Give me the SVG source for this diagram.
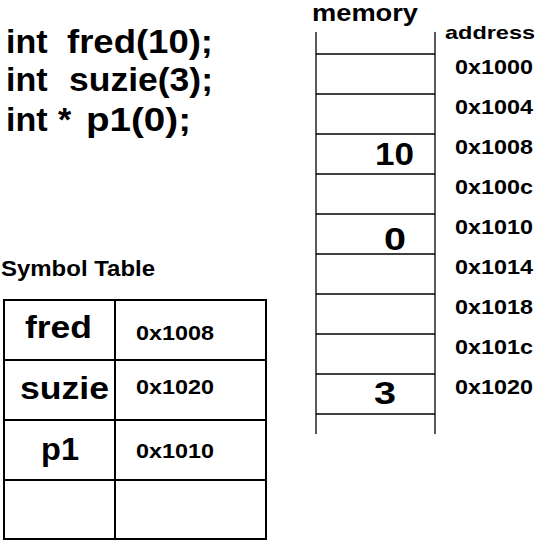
<svg xmlns="http://www.w3.org/2000/svg" width="541" height="542" viewBox="0 0 541 542">
<style>
text{font-family:"Liberation Sans",Arial,Helvetica,sans-serif;font-weight:bold;fill:#000}
.code{font-size:34px}
.addr{font-size:21px}
.val{font-size:32px}
.mem{stroke:#000;stroke-width:1.3;fill:none}
.tbl{stroke:#000;stroke-width:2;fill:none}
</style>
<rect width="541" height="542" fill="#fff"/>
<g id="code">
<text class="code" x="6" y="53">int <tspan x="67" textLength="146" lengthAdjust="spacingAndGlyphs">fred(10);</tspan></text>
<text class="code" x="6" y="91">int <tspan x="69" textLength="144" lengthAdjust="spacingAndGlyphs">suzie(3);</tspan></text>
<text class="code" x="6" y="131">int <tspan x="58">*</tspan> <tspan x="86" textLength="105" lengthAdjust="spacingAndGlyphs">p1(0);</tspan></text>
</g>
<g id="memory">
<text x="312" y="21" font-size="23" textLength="106" lengthAdjust="spacingAndGlyphs">memory</text>
<g class="mem">
<line x1="316" y1="32" x2="316" y2="434"/>
<line x1="435" y1="32" x2="435" y2="434"/>
<line x1="316" y1="54" x2="435" y2="54"/>
<line x1="316" y1="94" x2="435" y2="94"/>
<line x1="316" y1="134" x2="435" y2="134"/>
<line x1="316" y1="174" x2="435" y2="174"/>
<line x1="316" y1="214" x2="435" y2="214"/>
<line x1="316" y1="254" x2="435" y2="254"/>
<line x1="316" y1="294" x2="435" y2="294"/>
<line x1="316" y1="334" x2="435" y2="334"/>
<line x1="316" y1="374" x2="435" y2="374"/>
<line x1="316" y1="414" x2="435" y2="414"/>
</g>
<text class="val" x="375" y="165" textLength="39" lengthAdjust="spacingAndGlyphs">10</text>
<text class="val" x="384" y="250" textLength="22" lengthAdjust="spacingAndGlyphs">0</text>
<text class="val" x="374" y="404" textLength="22" lengthAdjust="spacingAndGlyphs">3</text>
</g>
<g id="addresses">
<text x="445" y="39" font-size="19" textLength="90" lengthAdjust="spacingAndGlyphs">address</text>
<text class="addr" x="455" y="74" textLength="78" lengthAdjust="spacingAndGlyphs">0x1000</text>
<text class="addr" x="455" y="114" textLength="78" lengthAdjust="spacingAndGlyphs">0x1004</text>
<text class="addr" x="455" y="154" textLength="78" lengthAdjust="spacingAndGlyphs">0x1008</text>
<text class="addr" x="455" y="194" textLength="78" lengthAdjust="spacingAndGlyphs">0x100c</text>
<text class="addr" x="455" y="234" textLength="78" lengthAdjust="spacingAndGlyphs">0x1010</text>
<text class="addr" x="455" y="274" textLength="78" lengthAdjust="spacingAndGlyphs">0x1014</text>
<text class="addr" x="455" y="314" textLength="78" lengthAdjust="spacingAndGlyphs">0x1018</text>
<text class="addr" x="455" y="354" textLength="78" lengthAdjust="spacingAndGlyphs">0x101c</text>
<text class="addr" x="455" y="394" textLength="78" lengthAdjust="spacingAndGlyphs">0x1020</text>
</g>
<g id="symbol-table">
<text x="1" y="276" font-size="22" textLength="154" lengthAdjust="spacingAndGlyphs">Symbol Table</text>
<g class="tbl">
<rect x="4" y="300" width="262" height="239"/>
<line x1="115" y1="300" x2="115" y2="539"/>
<line x1="4" y1="360" x2="266" y2="360"/>
<line x1="4" y1="420" x2="266" y2="420"/>
<line x1="4" y1="480" x2="266" y2="480"/>
</g>
<text class="val" x="25" y="338" textLength="67" lengthAdjust="spacingAndGlyphs">fred</text>
<text class="val" x="20" y="399" textLength="89" lengthAdjust="spacingAndGlyphs">suzie</text>
<text class="val" x="41" y="460" textLength="38" lengthAdjust="spacingAndGlyphs">p1</text>
<text class="addr" x="136" y="340" textLength="78" lengthAdjust="spacingAndGlyphs">0x1008</text>
<text class="addr" x="136" y="394" textLength="78" lengthAdjust="spacingAndGlyphs">0x1020</text>
<text class="addr" x="136" y="458" textLength="78" lengthAdjust="spacingAndGlyphs">0x1010</text>
</g>
</svg>
